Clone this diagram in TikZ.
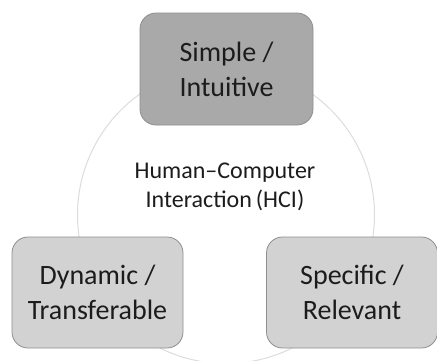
\documentclass[tikz,border=0pt]{standalone}
\usepackage{fontspec}
\setmainfont{Carlito}
\definecolor{topfill}{HTML}{A9A9A9}
\definecolor{sidefill}{HTML}{D2D2D2}
\definecolor{boxedge}{HTML}{8E8E8E}
\definecolor{ringline}{HTML}{DCDCDC}
\definecolor{ink}{HTML}{1C1C1C}
\begin{document}
\begin{tikzpicture}[x=1pt,y=-1pt,
  card/.style={draw=boxedge, line width=0.8pt, rounded corners=16pt,
    minimum width=171pt, minimum height=111pt, align=center,
    text=ink, font=\fontsize{28}{35}\selectfont, inner sep=0pt},
  hub/.style={align=center, text=ink, font=\fontsize{24}{29}\selectfont}]
  \useasboundingbox (0,0) rectangle (437,360);
  % ring behind the three cards
  \draw[ringline, line width=1pt] (226,215) circle (148.5);
  \node[card, fill=topfill, minimum width=173pt, minimum height=112pt] (top) at (226.5,69) {Simple /\\Intuitive};
  \node[card, fill=sidefill] (left) at (97.5,292.5) {Dynamic /\\Transferable};
  \node[card, fill=sidefill] (right) at (352,292.5) {Specific /\\Relevant};
  \node[hub] (hci) at (225,187) {Human--Computer\\Interaction\,(HCI)};
\end{tikzpicture}
\end{document}
